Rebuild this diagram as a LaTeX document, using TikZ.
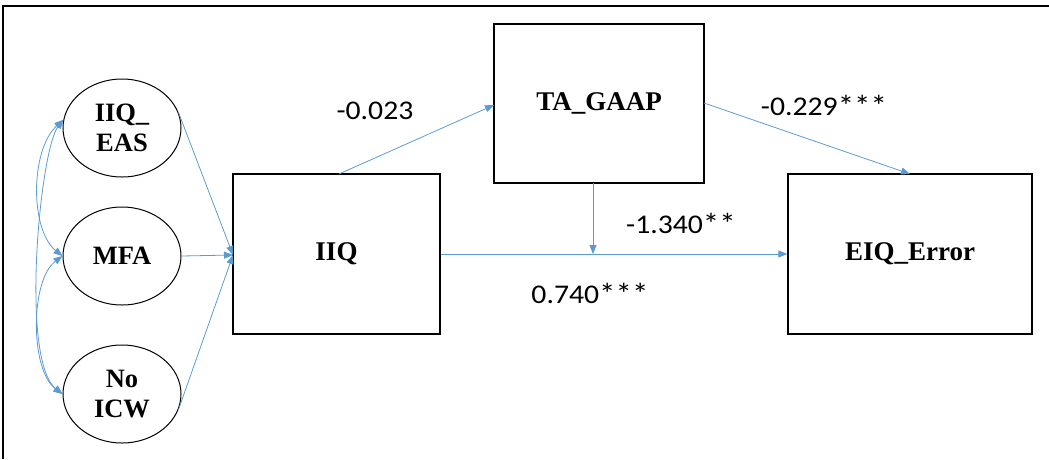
\documentclass[tikz,border=0pt]{standalone}
\usepackage{fontspec}
\setmainfont{Liberation Serif}
\newfontfamily\lblfont{Carlito}
\usetikzlibrary{arrows.meta,shapes.geometric}
\definecolor{arrblue}{RGB}{91,155,213}
\newcommand{\widen}[1]{\scalebox{1.1}[1]{#1}}
\newcommand{\stars}[1]{\raisebox{-1pt}{\fontsize{30}{30}\selectfont #1}}
\tikzset{
  x=1pt,y=-1pt,
  boxnode/.style={draw=black,line width=1.2pt,rectangle,inner sep=0pt,font=\fontsize{27}{30}\selectfont\bfseries},
  latent/.style={draw=black,line width=1pt,ellipse,inner sep=0pt,minimum width=118pt,minimum height=98pt,align=center,font=\fontsize{26.5}{30}\selectfont\bfseries},
  conn/.style={draw=arrblue,line width=0.8pt,-{Triangle[length=9pt,width=7pt]}},
  biconn/.style={draw=arrblue,line width=0.8pt,{Triangle[length=9pt,width=7pt]}-{Triangle[length=9pt,width=7pt]}},
  coef/.style={font=\lblfont\fontsize{27}{30}\selectfont,inner sep=0pt}
}
\begin{document}
\begin{tikzpicture}
\useasboundingbox (0,0) rectangle (1049,459);
% frame (top and left visible)
\draw[line width=1.2pt] (3,459) -- (3,6) -- (1049,6);
% latent variables
\node[latent] (eas) at (122,128) {IIQ\_\\EAS};
\node[latent] (mfa) at (122,256) {MFA};
\node[latent] (icw) at (122,394) {No\\ICW};
% boxes
\node[boxnode,minimum width=207pt,minimum height=160pt] (iiq) at (336.5,254) {IIQ};
\node[boxnode,minimum width=210pt,minimum height=159pt] (ta) at (599,103.5) {TA\_GAAP};
\node[boxnode,minimum width=244pt,minimum height=160pt] (eiq) at (910,254) {EIQ\_Error};
% coordinates on edges
\coordinate (iiqin) at (233,255);
\coordinate (iiqtop) at (339,174);
\coordinate (tain) at (494,105);
\coordinate (taout) at (704,103);
\coordinate (eiqtop) at (910,174);
\coordinate (tabot) at (593,183);
\coordinate (mid) at (593,254);
% paths
\draw[conn] (eas.15) -- (iiqin);
\draw[conn] (mfa.east) -- (iiqin);
\draw[conn] (icw.345) -- (iiqin);
\draw[conn] (iiqtop) -- (tain);
\draw[conn] (taout) -- (eiqtop);
\draw[conn] (iiq.east) -- (eiq.west);
\draw[conn] (tabot) -- (mid);
% correlations
\draw[biconn] (eas.172) .. controls (30,150) and (30,230) .. (mfa.180);
\draw[biconn] (mfa.180) .. controls (30,280) and (30,370) .. (icw.180);
\draw[biconn] (eas.172) .. controls (40,150) and (20,360) .. (icw.180);
% coefficients
\node[coef] (c1) at (375,111) {\widen{-0.023}};
\node[coef,anchor=base] (c2) at (824,115) {\widen{-0.229\stars{***}}};
\node[coef,anchor=base] (c3) at (681,233) {\widen{-1.340\stars{**}}};
\node[coef,anchor=base] (c4) at (590,303) {\widen{0.740\stars{***}}};
\end{tikzpicture}
\end{document}
